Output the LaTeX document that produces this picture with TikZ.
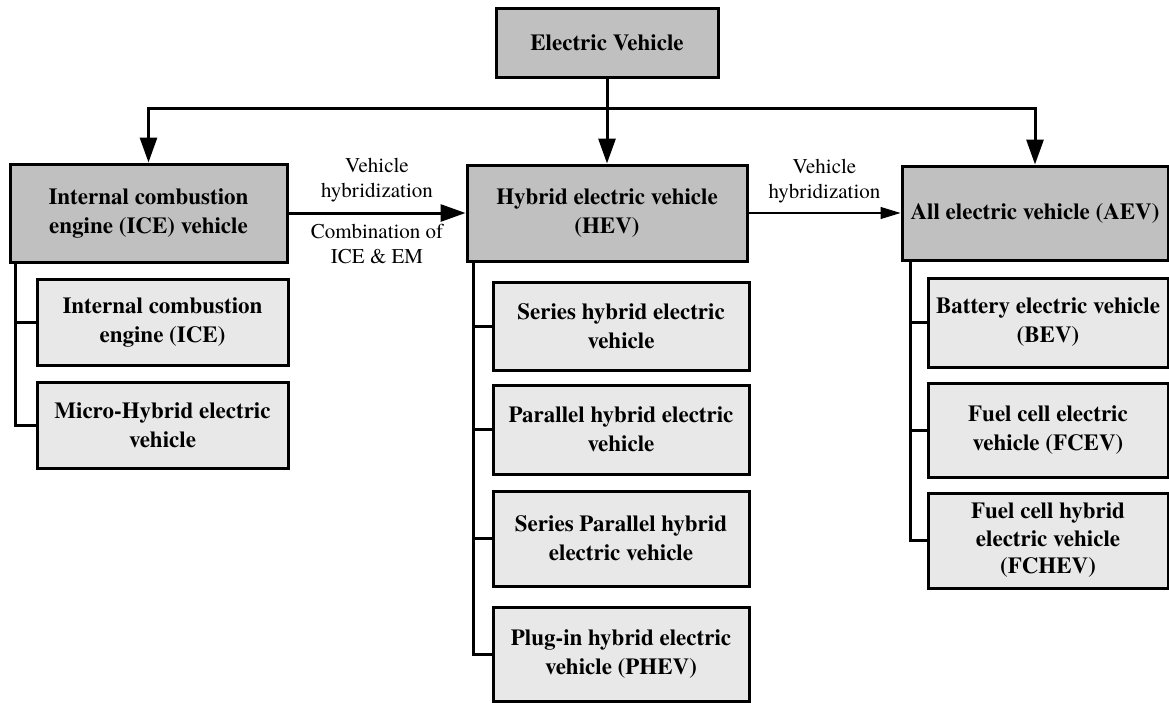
\documentclass[tikz,border=0pt]{standalone}
\usepackage{fontspec}
\setmainfont{texgyretermes}[Extension=.otf, UprightFont=*-regular, BoldFont=*-bold, ItalicFont=*-italic, BoldItalicFont=*-bolditalic]
\usetikzlibrary{arrows.meta}
\definecolor{mgray}{HTML}{C0C0C0}
\definecolor{lgray}{HTML}{E8E8E8}
\begin{document}
\begin{tikzpicture}[x=1pt,y=-1pt,
  main/.style={draw, line width=3pt, fill=mgray, inner sep=2pt, align=center,
    font=\fontsize{23}{29}\selectfont\bfseries},
  sub/.style={main, fill=lgray},
  conn/.style={line width=3pt},
  arr/.style={conn, -{Triangle[length=25pt,width=17pt]}},
  thinarr/.style={line width=1.2pt, -{Triangle[length=20pt,width=12pt]}},
  lab/.style={font=\fontsize{21}{25}\selectfont, align=center, inner sep=3pt}]
\useasboundingbox (0,0) rectangle (1169,702);
% main nodes
\node[main, minimum width=222pt, minimum height=69pt] (ev) at (607,42.5) {Electric Vehicle};
\node[main, minimum width=277pt, minimum height=98pt] (ice) at (148.5,213) {Internal combustion\\engine (ICE) vehicle};
\node[main, minimum width=280pt, minimum height=96pt] (hev) at (607,213) {Hybrid electric vehicle\\(HEV)};
\node[main, minimum width=266pt, minimum height=94pt] (aev) at (1035,213) {All electric vehicle (AEV)};
% ICE children
\node[sub, minimum width=251pt, minimum height=86pt] (ic1) at (162.5,322) {Internal combustion\\engine (ICE)};
\node[sub, minimum width=251pt, minimum height=86pt] (ic2) at (162.5,425) {Micro-Hybrid electric\\vehicle};
% HEV children
\node[sub, minimum width=256pt, minimum height=88pt] (h1) at (621,326) {Series hybrid electric\\vehicle};
\node[sub, minimum width=256pt, minimum height=89pt] (h2) at (621,429.5) {Parallel hybrid electric\\vehicle};
\node[sub, minimum width=256pt, minimum height=95pt] (h3) at (621,538.5) {Series Parallel hybrid\\electric vehicle};
\node[sub, minimum width=256pt, minimum height=94pt] (h4) at (621,654) {Plug-in hybrid electric\\vehicle (PHEV)};
% AEV children
\node[sub, minimum width=240pt, minimum height=89pt] (a1) at (1048,322.5) {Battery electric vehicle\\(BEV)};
\node[sub, minimum width=240pt, minimum height=94pt] (a2) at (1048,430) {Fuel cell electric\\vehicle (FCEV)};
\node[sub, minimum width=240pt, minimum height=95pt, font=\fontsize{23}{27.5}\selectfont\bfseries] (a3) at (1048,540.5) {Fuel cell hybrid\\electric vehicle\\(FCHEV)};
% top distribution
\coordinate (bus) at (607,108);
\draw[arr] (ev) -- (hev);
\draw[arr] (bus) -| (ice.north);
\draw[arr] (bus) -| (aev.north);
% horizontal arrows
\draw[arr] (ice) -- node[lab, above=6pt] {Vehicle\\hybridization}
                    node[lab, below=7pt] {Combination of\\ICE \& EM} (hev);
\draw[thinarr] (hev) -- node[lab, above=6pt] {Vehicle\\hybridization} (aev);
% child trees
\coordinate (icet) at (15,262);
\draw[conn] (icet) |- (ic1.west);
\draw[conn] (icet) |- (ic2.west);
\coordinate (hevt) at (473,261);
\draw[conn] (hevt) |- (h1.west);
\draw[conn] (hevt) |- (h2.west);
\draw[conn] (hevt) |- (h3.west);
\draw[conn] (hevt) |- (h4.west);
\coordinate (aevt) at (910,260);
\draw[conn] (aevt) |- (a1.west);
\draw[conn] (aevt) |- (a2.west);
\draw[conn] (aevt) |- (a3.west);
\end{tikzpicture}
\end{document}
